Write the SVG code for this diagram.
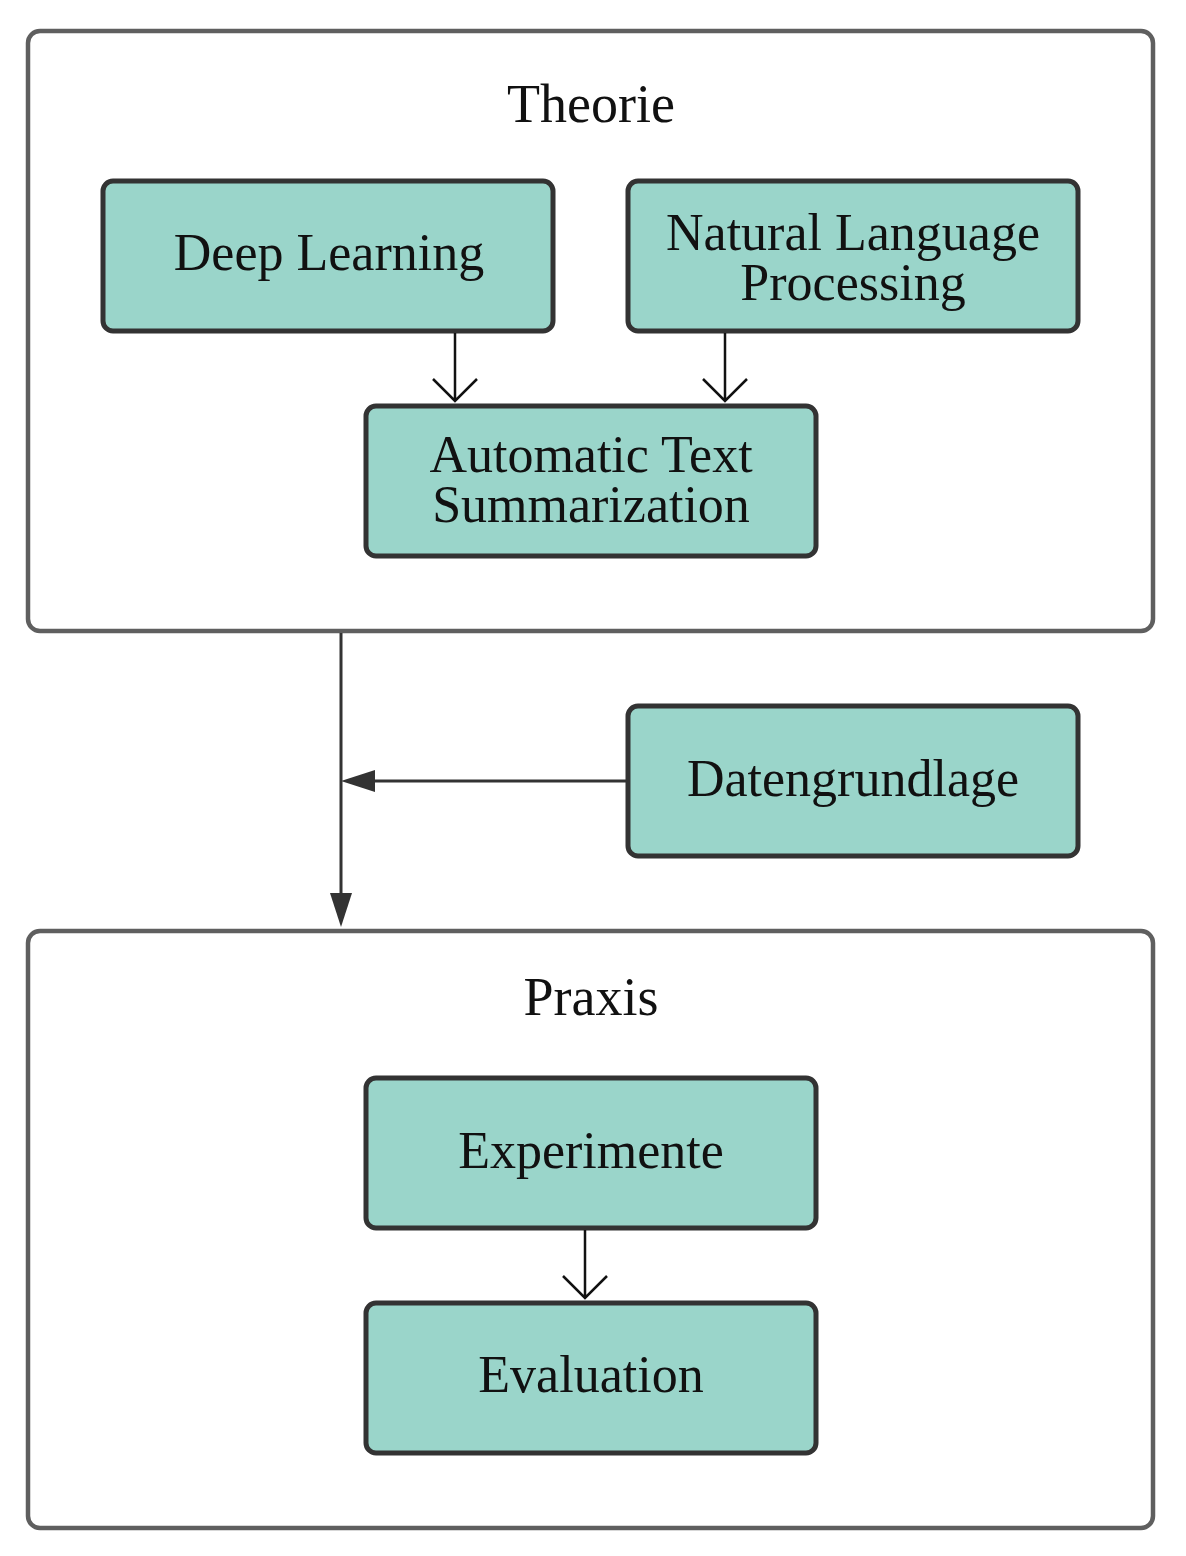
<svg xmlns="http://www.w3.org/2000/svg" width="1186" height="1556" viewBox="0 0 1186 1556">
<defs>
<style>
.group{fill:#ffffff;stroke:#5f5f5f;stroke-width:4.5}
.node{fill:#9ad5ca;stroke:#333333;stroke-width:5}
.t{font-family:"Liberation Serif","DejaVu Serif",serif;font-size:52px;fill:#111111;text-anchor:middle}
.title{font-size:54px}
.thin{fill:none;stroke:#111111;stroke-width:2.5}
.thick{fill:none;stroke:#333333;stroke-width:3}
</style>
</defs>
<rect width="1186" height="1556" fill="#ffffff"/>
<g id="theorie">
<rect class="group" x="28" y="31" width="1125" height="600" rx="12"/>
<text class="t title" x="591" y="122">Theorie</text>
</g>
<g id="praxis">
<rect class="group" x="28" y="931" width="1125" height="597" rx="12"/>
<text class="t title" x="591" y="1015">Praxis</text>
</g>
<g id="deep-learning">
<rect class="node" x="103" y="181" width="450" height="150" rx="10"/>
<text class="t" x="329" y="270">Deep Learning</text>
</g>
<g id="nlp">
<rect class="node" x="628" y="181" width="450" height="150" rx="10"/>
<text class="t" x="853" y="250">Natural Language<tspan x="853" dy="50">Processing</tspan></text>
</g>
<g id="ats">
<rect class="node" x="366" y="406" width="450" height="150" rx="10"/>
<text class="t" x="591" y="472">Automatic Text<tspan x="591" dy="50">Summarization</tspan></text>
</g>
<g id="datengrundlage">
<rect class="node" x="628" y="706" width="450" height="150" rx="10"/>
<text class="t" x="853" y="796">Datengrundlage</text>
</g>
<g id="experimente">
<rect class="node" x="366" y="1078" width="450" height="150" rx="10"/>
<text class="t" x="591" y="1168">Experimente</text>
</g>
<g id="evaluation">
<rect class="node" x="366" y="1303" width="450" height="150" rx="10"/>
<text class="t" x="591" y="1392">Evaluation</text>
</g>
<g id="connectors">
<path class="thin" d="M455 333 V401 M433 379 L455 401 L477 379"/>
<path class="thin" d="M725 333 V401 M703 379 L725 401 L747 379"/>
<path class="thin" d="M585 1230 V1298 M563 1276 L585 1298 L607 1276"/>
<path class="thick" d="M341 633 V895"/>
<polygon fill="#333333" points="330,893 352,893 341,927"/>
<path class="thick" d="M626 781 H372"/>
<polygon fill="#333333" points="375,770 375,792 341,781"/>
</g>
</svg>
